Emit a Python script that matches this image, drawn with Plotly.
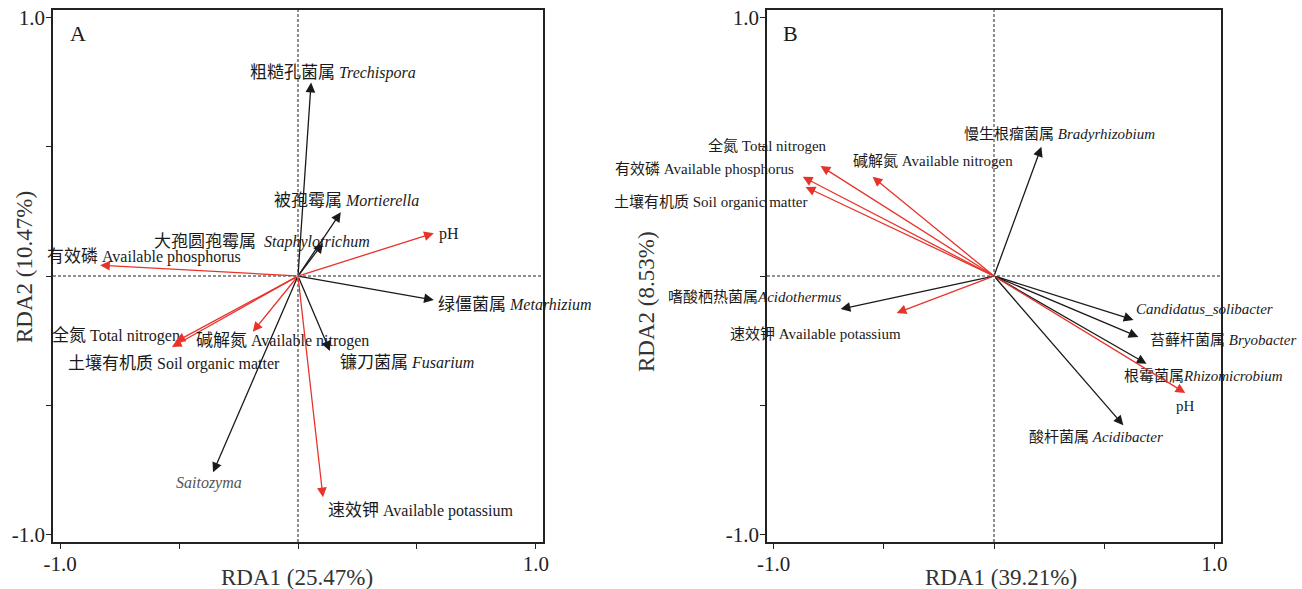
import re
import plotly.graph_objects as go

# ---------------- Panel A data (fungi) ----------------
A_names = [
    "粗糙孔菌属 <i>Trechispora</i>",
    "被孢霉属 <i>Mortierella</i>",
    "大孢圆孢霉属  <i>Staphylotrichum</i>",
    "有效磷 Available phosphorus",
    "pH",
    "绿僵菌属 <i>Metarhizium</i>",
    "全氮 Total nitrogen",
    "碱解氮 Available nitrogen",
    "土壤有机质 Soil organic matter",
    "镰刀菌属 <i>Fusarium</i>",
    "<i>Saitozyma</i>",
    "速效钾 Available potassium",
]
A_rda1 = [0.055, 0.18, 0.105, -0.832, 0.571, 0.571, -0.53, -0.19, -0.515, 0.134, -0.357, 0.105]
A_rda2 = [0.749, 0.247, 0.127, 0.042, 0.166, -0.093, -0.275, -0.216, -0.255, -0.29, -0.76, -0.857]
A_env = [False, False, False, True, True, False, True, True, True, False, False, True]
# label anchor positions (left-middle), data units
A_lab_x = [-0.21, -0.109, -0.613, -1.063, 0.584, 0.58, -1.042, -0.437, -0.975, 0.168, -0.521, 0.118]
A_lab_y = [0.788, 0.293, 0.135, 0.077, 0.162, -0.112, -0.232, -0.251, -0.336, -0.336, -0.80, -0.907]

# ---------------- Panel B data (bacteria) ----------------
B_names = [
    "慢生根瘤菌属 <i>Bradyrhizobium</i>",
    "全氮 Total nitrogen",
    "碱解氮 Available nitrogen",
    "有效磷 Available phosphorus",
    "土壤有机质 Soil organic matter",
    "嗜酸栖热菌属<i>Acidothermus</i>",
    "速效钾 Available potassium",
    "<i>Candidatus_solibacter</i>",
    "苔藓杆菌属 <i>Bryobacter</i>",
    "根霉菌属<i>Rhizomicrobium</i>",
    "pH",
    "酸杆菌属 <i>Acidibacter</i>",
]
B_rda1 = [0.215, -0.787, -0.551, -0.868, -0.855, -0.696, -0.442, 0.633, 0.655, 0.692, 0.868, 0.587]
B_rda2 = [0.50, 0.426, 0.384, 0.384, 0.345, -0.128, -0.143, -0.17, -0.236, -0.34, -0.453, -0.578]
B_env = [False, True, True, True, True, False, True, False, False, False, True, False]
B_lab_x = [-0.143, -1.308, -0.651, -1.73, -1.735, -1.49, -1.209, 0.637, 0.70, 0.583, 0.819, 0.152]
B_lab_y = [0.548, 0.506, 0.444, 0.413, 0.289, -0.083, -0.223, -0.126, -0.246, -0.386, -0.502, -0.622]

tick_vals = [-1.0, -0.5, 0.0, 0.5, 1.0]
tick_text = ["-1.0", "", "", "", "1.0"]

x_titles = ["RDA1 (25.47%)", "RDA1 (39.21%)"]
y_titles = ["RDA2 (10.47%)", "RDA2 (8.53%)"]
panel_letters = ["A", "B"]

FONT = "Times New Roman, Liberation Serif, Noto Sans CJK SC, serif"
BLACK = "#1a1a1a"
RED = "#e8332b"

fig = go.Figure()

W, H = 1302, 589
domA = [53 / W, 543 / W]
domB = [767 / W, 1221 / W]
domY = [(H - 542) / H, (H - 10) / H]
RNG = [-1.03, 1.03]


def dfrac(v):
    return (v - RNG[0]) / (RNG[1] - RNG[0])


CJK_RE = re.compile(r"([\u4e00-\u9fff]+)")


def styled(label, cjk_size):
    # CJK glyphs sized separately from the Latin serif text
    return CJK_RE.sub(r'<span style="font-size:%spx">\1</span>' % cjk_size, label)


axis_common = dict(
    range=RNG, showgrid=False, zeroline=False, showline=True, mirror=True,
    linecolor="#222", linewidth=1.5, ticks="outside", ticklen=5, tickwidth=1.3,
    tickcolor="#222", tickvals=tick_vals, ticktext=tick_text, automargin=False,
    tickfont=dict(family=FONT, size=21, color="#222"), fixedrange=True,
    ticklabelstandoff=-3,
)

fig.update_layout(
    width=W, height=H, margin=dict(l=0, r=0, t=0, b=0, pad=0),
    paper_bgcolor="white", plot_bgcolor="white", showlegend=False,
    xaxis=dict(domain=domA, anchor="y", **axis_common),
    yaxis=dict(domain=domY, anchor="x", **axis_common),
    xaxis2=dict(domain=domB, anchor="y2", **axis_common),
    yaxis2=dict(domain=domY, anchor="x2", **axis_common),
)

# invisible traces to activate axes
fig.add_trace(go.Scatter(x=[0], y=[0], mode="markers", marker=dict(opacity=0), xaxis="x", yaxis="y", hoverinfo="skip"))
fig.add_trace(go.Scatter(x=[0], y=[0], mode="markers", marker=dict(opacity=0), xaxis="x2", yaxis="y2", hoverinfo="skip"))

annotations = []
shapes = []
panels = [
    ("x", "y", A_names, A_rda1, A_rda2, A_env, A_lab_x, A_lab_y, 16, 17),
    ("x2", "y2", B_names, B_rda1, B_rda2, B_env, B_lab_x, B_lab_y, 15, 15),
]
for pi, (xr, yr, names, r1, r2, env, lx, ly, lat_sz, cjk_sz) in enumerate(panels):
    # dashed zero lines
    shapes.append(dict(type="line", xref=xr, yref=f"{yr} domain", x0=0, x1=0, y0=0, y1=1,
                       line=dict(color="#222", width=1, dash="3px,2px"), layer="below"))
    shapes.append(dict(type="line", xref=f"{xr} domain", yref=yr, x0=0, x1=1, y0=0, y1=0,
                       line=dict(color="#222", width=1, dash="3px,2px"), layer="below"))
    for n, a, b, e, tx, ty in zip(names, r1, r2, env, lx, ly):
        col = RED if e else BLACK
        annotations.append(dict(
            x=a, y=b, ax=0, ay=0, xref=xr, yref=yr, axref=xr, ayref=yr,
            text="", showarrow=True, arrowhead=2, arrowsize=1.5, arrowwidth=1.3,
            arrowcolor=col,
        ))
        tcol = "#555" if n == "<i>Saitozyma</i>" else "#1a1a1a"
        annotations.append(dict(
            x=dfrac(tx), y=dfrac(ty), xref=f"{xr} domain", yref=f"{yr} domain",
            text=styled(n, cjk_sz), showarrow=False, xanchor="left", yanchor="middle",
            font=dict(family=FONT, size=lat_sz, color=tcol),
        ))
    # panel letter
    annotations.append(dict(
        x=0.03, y=0.955, xref=f"{xr} domain", yref=f"{yr} domain", text=panel_letters[pi],
        showarrow=False, xanchor="left", yanchor="middle",
        font=dict(family=FONT, size=22, color="#1a1a1a"),
    ))

# axis titles
title_font = dict(family=FONT, size=23, color="#333")
annotations.append(dict(x=297 / W, y=(H - 577) / H, xref="paper", yref="paper", text=x_titles[0],
                        showarrow=False, xanchor="center", yanchor="middle", font=title_font))
annotations.append(dict(x=1001 / W, y=(H - 577) / H, xref="paper", yref="paper", text=x_titles[1],
                        showarrow=False, xanchor="center", yanchor="middle", font=title_font))
annotations.append(dict(x=25 / W, y=(H - 267) / H, xref="paper", yref="paper", text=y_titles[0],
                        showarrow=False, xanchor="center", yanchor="middle", textangle=-90, font=title_font))
annotations.append(dict(x=646 / W, y=(H - 302) / H, xref="paper", yref="paper", text=y_titles[1],
                        showarrow=False, xanchor="center", yanchor="middle", textangle=-90, font=title_font))

fig.update_layout(annotations=annotations, shapes=shapes)
fig.write_html(
    "out.html",
    config={"displayModeBar": False},
    post_script="document.body.style.margin='0px';document.body.style.padding='0px';document.body.style.overflow='hidden';",
)
